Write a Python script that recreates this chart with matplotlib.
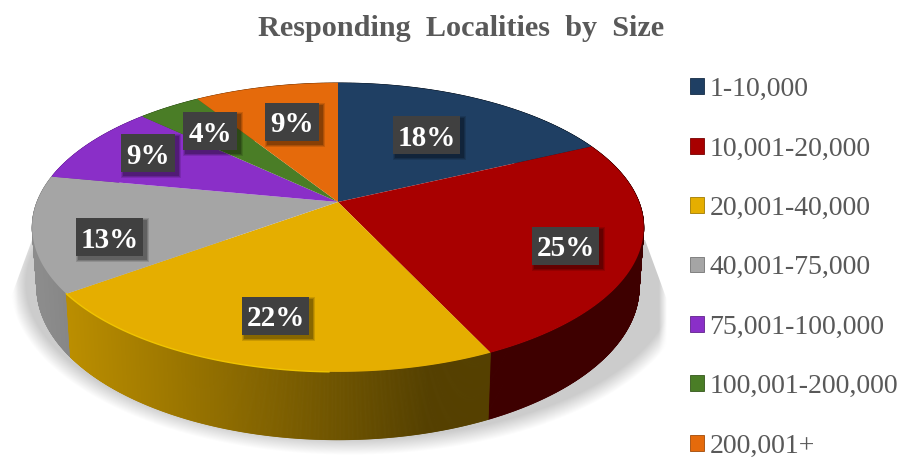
import matplotlib
matplotlib.use("Agg")
import matplotlib.pyplot as plt
import numpy as np
from matplotlib.collections import PolyCollection
from matplotlib.patches import Rectangle, Polygon

title = "Responding  Localities  by  Size"
categories = ["1-10,000", "10,001-20,000", "20,001-40,000", "40,001-75,000",
              "75,001-100,000", "100,001-200,000", "200,001+"]
percents = [18, 25, 22, 13, 9, 4, 9]
colors = ["#1F3F63", "#A80000", "#E5AE00", "#A5A5A5", "#8A2FC8", "#4A7D26", "#E56A0B"]

# label box centres, in pixels
label_pos = [(427, 135), (566, 246), (276, 316), (110, 237), (148, 153), (210, 131), (292, 122)]

SERIF = "Liberation Serif"
TEXT_GREY = "#595959"


def project(theta, scale=1.0, drop=0.0):
    # perspective view of the pie disc, theta in radians, result in pixels
    u, v = np.cos(theta), np.sin(theta)
    w = 1 + 0.176 * v
    return 338 + scale * 301 * u / w, 202 + drop / w - scale * 140 * v / w


def darker(color, f):
    return tuple(c * f for c in matplotlib.colors.to_rgb(color))


def side_shade(x):
    return np.clip(0.85 - (x - 40) * 0.47 / 380, 0.37, 0.85)


fig = plt.figure(figsize=(9.04, 4.59), dpi=100)
ax = fig.add_axes([0, 0, 1, 1])
ax.set_xlim(0, 904)
ax.set_ylim(459, 0)
ax.axis("off")

# soft shadow under the pie
xx, yy = np.meshgrid(np.arange(0, 904) + 0.5, np.arange(0, 459) + 0.5)
a_s, b_s, cx_s, cy_s = 340.0, 171.0, 350.0, 284.0
r = np.sqrt(((xx - cx_s) / a_s) ** 2 + ((yy - cy_s) / b_s) ** 2) + 1e-6
grad = np.sqrt(((xx - cx_s) / a_s ** 2) ** 2 + ((yy - cy_s) / b_s ** 2) ** 2) / r + 1e-9
shadow = np.zeros(xx.shape + (4,))
shadow[..., :3] = 0.80
shadow[..., 3] = (np.clip((1 - r) / grad / 16.0, 0, 1)
                  * np.clip((xx - 10) / 8.0, 0, 1) * np.clip((667 - xx) / 8.0, 0, 1))
im = ax.imshow(shadow, extent=(0, 904, 459, 0), zorder=1, aspect="auto")
clip = Polygon([(32, 240), (10, 300), (10, 459), (667, 459), (667, 300), (645, 240)],
               transform=ax.transData, fill=False, edgecolor="none")
ax.add_patch(clip)
im.set_clip_path(clip)
ax.set_xlim(0, 904)
ax.set_ylim(459, 0)

# slice edges, clockwise from twelve o'clock
edges = np.pi / 2 - 2 * np.pi * np.cumsum([0] + percents) / sum(percents)

# side wall, back to front
strips, strip_colors, strip_v = [], [], []
for i, color in enumerate(colors):
    n = max(int(percents[i] * 20), 8)
    t = np.linspace(edges[i], edges[i + 1], n + 1)
    for a, b in zip(t[:-1], t[1:]):
        x0, y0 = project(a)
        x1, y1 = project(b)
        x2, y2 = project(b, 0.985, 58)
        x3, y3 = project(a, 0.985, 58)
        strips.append([(x0, y0), (x1, y1), (x2, y2), (x3, y3)])
        strip_colors.append(darker(color, side_shade((x0 + x1) / 2)))
        strip_v.append(np.sin((a + b) / 2))
order = np.argsort(-np.array(strip_v))
ax.add_collection(PolyCollection([strips[k] for k in order],
                                 facecolors=[strip_colors[k] for k in order],
                                 edgecolors=[strip_colors[k] for k in order],
                                 linewidths=0.6, zorder=2))

# top face
for i, color in enumerate(colors):
    t = np.linspace(edges[i], edges[i + 1], 120)
    x, y = project(t)
    ax.fill(np.r_[338, x], np.r_[202, y], color=color, lw=0, zorder=3)

# bright rim along the yellow slice
t = np.linspace(edges[2], edges[3], 120)[40:]
x, y = project(t)
ax.plot(x, y, color="#F0C400", lw=1.0, zorder=4)

# value labels
for value, (cx, cy) in zip(percents, label_pos):
    w = 67 if value >= 10 else 54
    h = 38
    for grow, alpha in ((3, 0.12), (2, 0.15), (1, 0.2)):
        ax.add_patch(Rectangle((cx - w / 2 + 3 - grow, cy - h / 2 + 3 - grow), w + 2 * grow, h + 2 * grow,
                               facecolor="black", edgecolor="none", alpha=alpha, zorder=5))
    ax.add_patch(Rectangle((cx - w / 2, cy - h / 2), w, h, facecolor="#404040", edgecolor="none", zorder=6))
    ax.text(cx, cy, "%d%%" % value, color="white", family=SERIF, fontsize=21, fontweight="bold",
            ha="center", va="center_baseline", zorder=7)

ax.text(461, 28, title, family=SERIF, fontsize=21.8, fontweight="bold", color=TEXT_GREY,
        ha="center", va="center")

handles = [Rectangle((0, 0), 1, 1, facecolor=c, edgecolor=darker(c, 0.7), linewidth=0.6) for c in colors]
ax.legend(handles, categories, loc="upper left", bbox_to_anchor=(690, 77), bbox_transform=ax.transData,
          frameon=False, prop={"family": SERIF, "size": 20}, labelcolor=TEXT_GREY,
          handlelength=0.5, handleheight=0.5, handletextpad=0.2, labelspacing=1.24,
          borderpad=0, borderaxespad=0)

fig.savefig("out.png", dpi=100)
